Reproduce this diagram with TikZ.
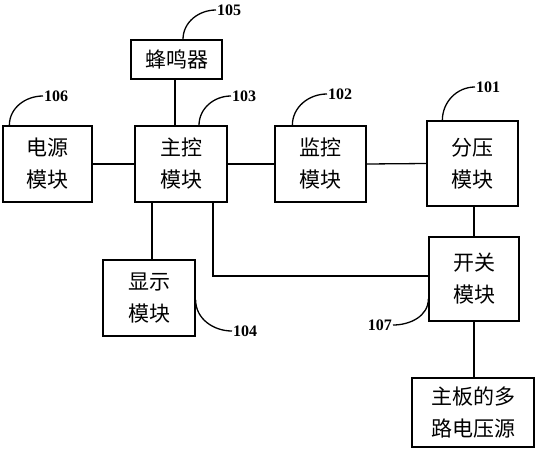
\documentclass[tikz,border=0pt]{standalone}
\usepackage{fontspec}
\setmainfont{Liberation Serif}
\newfontfamily\cjk{Noto Sans CJK SC}
\begin{document}
\begin{tikzpicture}[x=1pt,y=-1pt,
  box/.style={draw,line width=1.3pt,inner sep=0pt,align=center,
    font=\cjk\fontsize{21}{32}\selectfont},
  wire/.style={line width=1.3pt},
  lbl/.style={font=\bfseries\fontsize{16}{18}\selectfont,inner sep=1pt},
  lead/.style={line width=1.3pt}]
\useasboundingbox (0,0) rectangle (535,450);
\node[box,minimum width=91pt,minimum height=39pt] (buzzer) at (176.5,59.5) {蜂鸣器};
\node[box,minimum width=89pt,minimum height=76pt] (power) at (47.5,164) {电源\\模块};
\node[box,minimum width=92pt,minimum height=76pt] (main) at (181,164) {主控\\模块};
\node[box,minimum width=91pt,minimum height=76pt] (monitor) at (320.5,164) {监控\\模块};
\node[box,minimum width=91pt,minimum height=85pt] (divider) at (472.5,163.5) {分压\\模块};
\node[box,minimum width=92pt,minimum height=76pt] (display) at (149,298) {显示\\模块};
\node[box,minimum width=90pt,minimum height=84pt] (switch) at (474,279) {开关\\模块};
\node[box,minimum width=122pt,minimum height=69pt] (board) at (473,412.5) {主板的多\\路电压源};
% labels
\node[lbl,anchor=west] (l105) at (216,10) {105};
\node[lbl,anchor=west] (l106) at (43,96) {106};
\node[lbl,anchor=west] (l103) at (231,96) {103};
\node[lbl,anchor=west] (l102) at (327,94) {102};
\node[lbl,anchor=west] (l101) at (475,87) {101};
\node[lbl,anchor=west] (l104) at (232,331) {104};
\node[lbl,anchor=east] (l107) at (393,325) {107};
% connectors
\draw[wire] (power.east) -- (main.west);
\draw[wire] (main.east) -- (monitor.west);
\draw[wire] (monitor.east) -- (divider.west);
\draw[wire] ([xshift=-1.5pt]buzzer.south) -- ([xshift=-1.5pt]buzzer.south |- main.north);
\draw[wire] ([xshift=3pt]display.north) -- ([xshift=3pt]display.north |- main.south);
\draw[wire] ([xshift=32pt]main.south) |- ([yshift=3pt]switch.west);
\draw[wire] (switch.north) -- (switch.north |- divider.south);
\draw[wire] (switch.south) -- (switch.south |- board.north);
% leaders
\draw[lead] ([xshift=6.5pt]buzzer.north) to[out=90,in=180] (l105.west);
\draw[lead] ([xshift=7pt]power.north west) to[out=90,in=180] (l106.west);
\draw[lead] ([xshift=18pt]main.north) to[out=90,in=180] (l103.west);
\draw[lead] ([xshift=18pt]monitor.north west) to[out=90,in=180] (l102.west);
\draw[lead] ([xshift=16pt]divider.north west) to[out=90,in=180] (l101.west);
\draw[lead] ([yshift=-2pt]display.east) to[out=-90,in=180] (l104.west);
\draw[lead] (l107.east) to[out=0,in=-90] ([yshift=-20pt]switch.west);
\end{tikzpicture}
\end{document}
